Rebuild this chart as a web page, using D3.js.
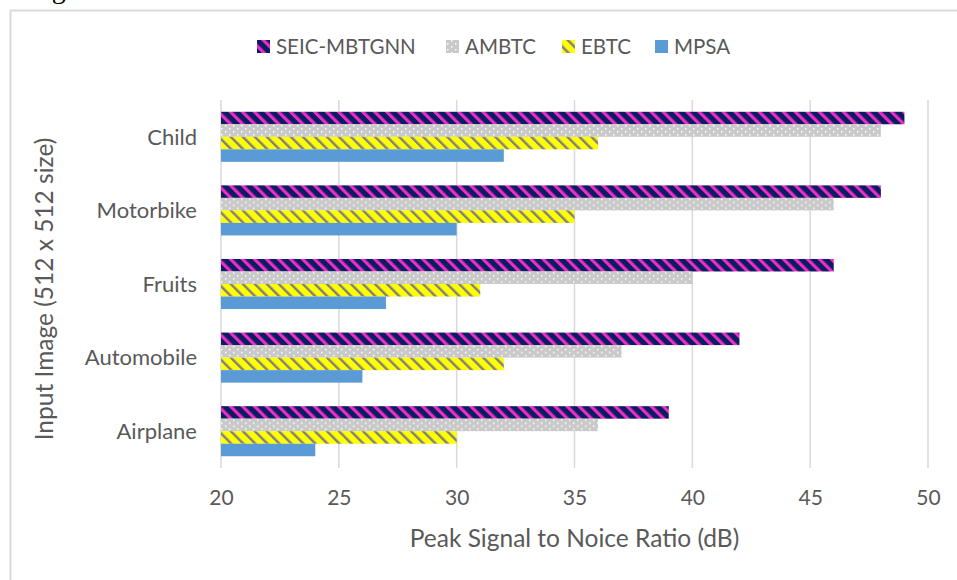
<!DOCTYPE html>
<html>
<head>
<meta charset="utf-8">
<script src="https://cdn.jsdelivr.net/npm/d3@7"></script>
<style>
  html, body { margin: 0; padding: 0; background: #fff; }
  svg { display: block; }
  text { font-family: Lato, "Open Sans", sans-serif; fill: #595959; }
</style>
</head>
<body>
<svg id="chart" width="957" height="580"></svg>
<script>
// Test images (top to bottom) and compared methods
const categories = ["Child", "Motorbike", "Fruits", "Automobile", "Airplane"];
const seriesNames = ["SEIC-MBTGNN", "AMBTC", "EBTC", "MPSA"];

// PSNR (dB) per image, one array per method
const seicMbtgnn = [49, 48, 46, 42, 39];
const ambtc      = [48, 46, 40, 37, 36];
const ebtc       = [36, 35, 31, 32, 30];
const mpsa       = [32, 30, 27, 26, 24];

const xTicks = [20, 25, 30, 35, 40, 45, 50];

const seriesValues = [seicMbtgnn, ambtc, ebtc, mpsa];

const svg = d3.select("#chart");
const plot = { left: 221, right: 928, top: 100, bottom: 468 };

// fill patterns
const defs = svg.append("defs");

function stripes(id, bg, fg, stripeW) {
  const p = defs.append("pattern")
    .attr("id", id)
    .attr("patternUnits", "userSpaceOnUse")
    .attr("width", 8.5).attr("height", 8.5)
    .attr("patternTransform", "rotate(-45)");
  p.append("rect").attr("width", 8.5).attr("height", 8.5).attr("fill", bg);
  p.append("rect").attr("x", 0).attr("width", stripeW).attr("height", 8.5).attr("fill", fg);
}
stripes("pat-seic", "#0b1d5e", "#ee2ccb", 3.2);
stripes("pat-ebtc", "#ffff00", "#7f7f7f", 2.4);

const dots = defs.append("pattern")
  .attr("id", "pat-ambtc")
  .attr("patternUnits", "userSpaceOnUse")
  .attr("width", 8).attr("height", 6);
dots.append("rect").attr("width", 8).attr("height", 6).attr("fill", "#c9c9c9");
dots.append("rect").attr("x", 1).attr("y", 1).attr("width", 1.5).attr("height", 1.5).attr("fill", "#ffffff");
dots.append("rect").attr("x", 5).attr("y", 4).attr("width", 1.5).attr("height", 1.5).attr("fill", "#ffffff");

const fills = ["url(#pat-seic)", "url(#pat-ambtc)", "url(#pat-ebtc)", "#5b9bd5"];

// outer frame
svg.append("rect")
  .attr("x", 10.5).attr("y", 10.5)
  .attr("width", 980).attr("height", 600)
  .attr("fill", "none").attr("stroke", "#d9d9d9").attr("stroke-width", 2);

// text of the surrounding page, cut by the top edge
svg.append("text")
  .attr("x", 30).attr("y", -2)
  .style("font-family", "'Liberation Serif', serif")
  .style("font-size", "28px")
  .style("fill", "#000")
  .text("rage.");

// scales
const x = d3.scaleLinear().domain([20, 50]).range([plot.left, plot.right]);
const y0 = d3.scaleBand().domain(categories).range([plot.top, plot.bottom]).paddingInner(0).paddingOuter(0);
const y1 = d3.scaleBand().domain(seriesNames).range([0, y0.bandwidth()]).paddingInner(0).paddingOuter(0.94);

// gridlines
svg.append("g")
  .selectAll("line")
  .data(xTicks)
  .join("line")
  .attr("x1", d => x(d)).attr("x2", d => x(d))
  .attr("y1", plot.top).attr("y2", plot.bottom)
  .attr("stroke", "#d9d9d9").attr("stroke-width", 1.5);

// bars
const groups = svg.append("g")
  .selectAll("g")
  .data(categories)
  .join("g")
  .attr("transform", c => `translate(0,${y0(c)})`);

groups.selectAll("rect")
  .data((c, ci) => seriesNames.map((s, si) => ({ s, si, v: seriesValues[si][ci] })))
  .join("rect")
  .attr("x", x(20))
  .attr("y", d => y1(d.s))
  .attr("width", d => x(d.v) - x(20))
  .attr("height", y1.bandwidth())
  .attr("fill", d => fills[d.si]);

// x axis tick labels
const xAxis = d3.axisBottom(x).tickValues(xTicks).tickSize(0).tickPadding(0);
const gx = svg.append("g")
  .attr("transform", `translate(0,${plot.bottom})`)
  .call(xAxis);
gx.select(".domain").remove();
gx.selectAll("text")
  .attr("y", 37).attr("dy", null)
  .style("font-family", "Lato, sans-serif")
  .style("font-size", "21px")
  .attr("fill", "#595959");

// y axis category labels
const yAxis = d3.axisLeft(y0).tickSize(0).tickPadding(0);
const gy = svg.append("g")
  .attr("transform", `translate(${plot.left},0)`)
  .call(yAxis);
gy.select(".domain").remove();
gy.selectAll("text")
  .attr("x", -24)
  .attr("dy", "0.35em")
  .style("font-family", "Lato, sans-serif")
  .style("font-size", "22px")
  .attr("fill", "#595959");

// axis titles
svg.append("text")
  .attr("x", (plot.left + plot.right) / 2)
  .attr("y", 547)
  .attr("text-anchor", "middle")
  .style("font-size", "24.5px")
  .text("Peak Signal to Noice Ratio (dB)");

svg.append("text")
  .attr("transform", `translate(53,289) rotate(-90)`)
  .attr("text-anchor", "middle")
  .style("font-size", "24.5px")
  .text("Input Image (512 x 512 size)");

// legend
const legendX = [257, 446, 562, 655];
const legend = svg.append("g")
  .selectAll("g")
  .data(seriesNames)
  .join("g")
  .attr("transform", (d, i) => `translate(${legendX[i]},0)`);
legend.append("rect")
  .attr("x", 0).attr("y", 40)
  .attr("width", 13).attr("height", 13)
  .attr("fill", (d, i) => fills[i]);
legend.append("text")
  .attr("x", 19).attr("y", 54)
  .style("font-size", "20.5px")
  .text(d => d);
</script>
</body>
</html>
